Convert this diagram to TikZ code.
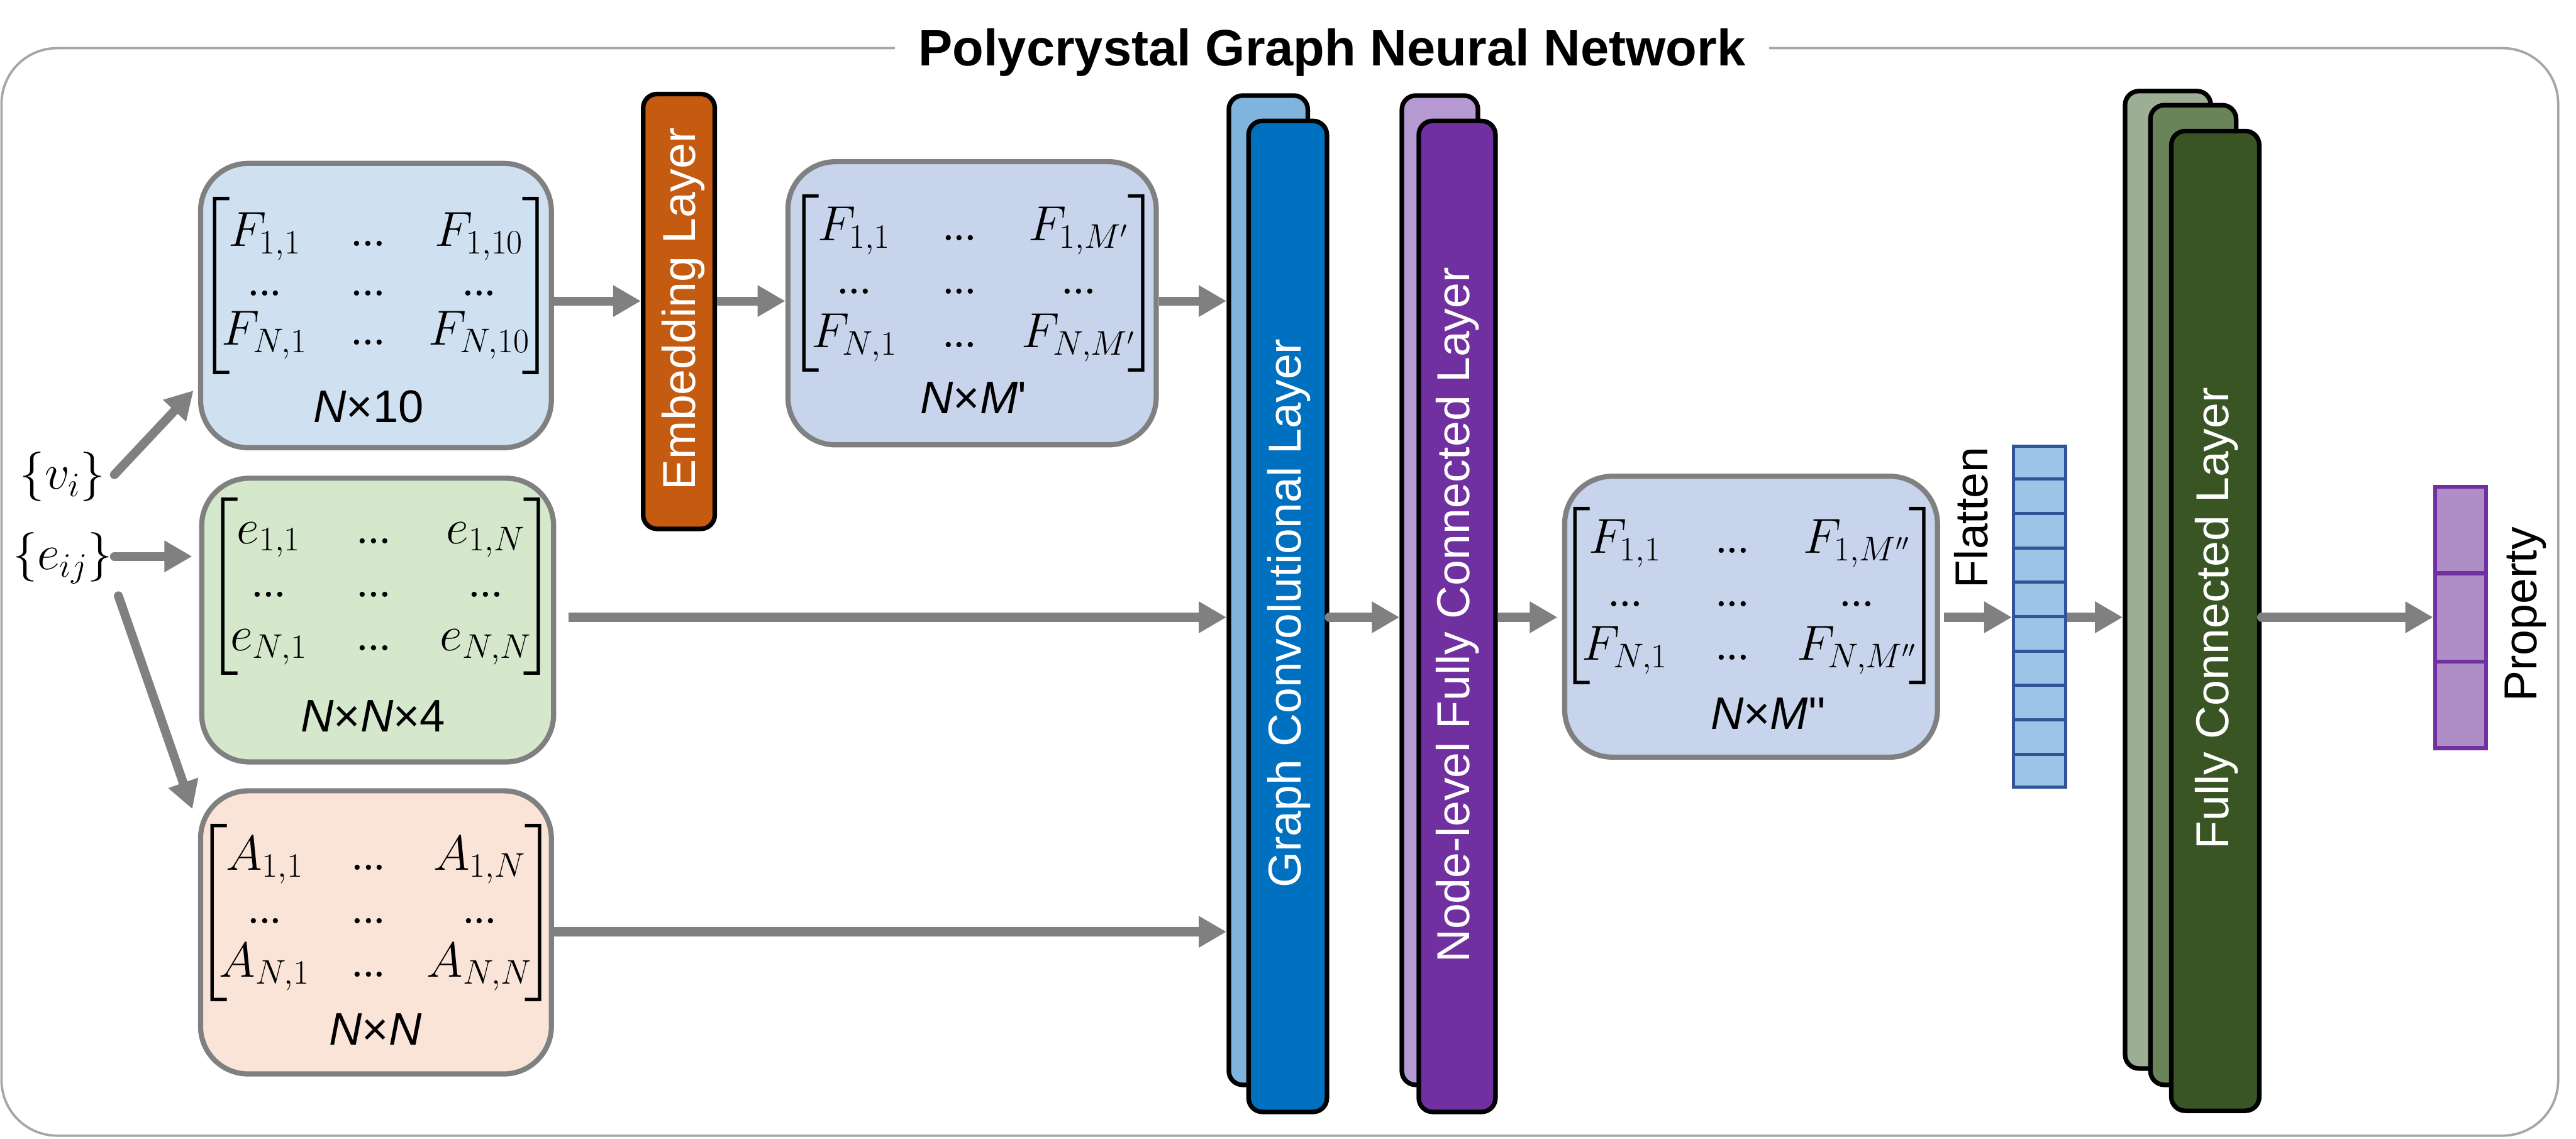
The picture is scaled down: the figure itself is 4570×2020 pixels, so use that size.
\documentclass[tikz,border=0pt]{standalone}
\usepackage[no-math]{fontspec}
\usepackage{amsmath}
\newfontfamily\arial{Liberation Sans}
\usetikzlibrary{arrows.meta,calc}
\DeclareMathSizes{28}{28}{16}{12}
\definecolor{boxgray}{HTML}{808080}
\definecolor{framegray}{HTML}{A6A6A6}
\definecolor{arrgray}{HTML}{808080}
\definecolor{cA}{HTML}{CFE0F1}
\definecolor{cB}{HTML}{D5E8CC}
\definecolor{cC}{HTML}{FAE4D8}
\definecolor{cD}{HTML}{C7D4EC}
\definecolor{embc}{HTML}{C55A11}
\definecolor{gcnb}{HTML}{80B4DC}
\definecolor{gcnf}{HTML}{0070C0}
\definecolor{nfcb}{HTML}{B49AD0}
\definecolor{nfcf}{HTML}{7030A0}
\definecolor{fcb}{HTML}{9CAF94}
\definecolor{fcm}{HTML}{6A845A}
\definecolor{fcf}{HTML}{3A5524}
\definecolor{flatfill}{HTML}{9DC3E6}
\definecolor{flatline}{HTML}{2F5597}
\definecolor{propfill}{HTML}{AF8DC7}
\definecolor{propline}{HTML}{7030A0}
\newcommand\mydots{\mbox{\fontsize{18}{18}\selectfont\bfseries...}}
\newcommand\pgnmat[3]{\ensuremath{\delimitershortfall=-3pt\left[\begin{array}{@{\hspace{-4pt}}c@{\hspace{#3}}c@{\hspace{#3}}c@{\hspace{-4pt}}}
#1_{1,1} & \mydots & #1_{1,#2}\\
\mydots & \mydots & \mydots\\
#1_{N,1} & \mydots & #1_{N,#2}
\end{array}\right]}}
\tikzset{
  pgnframe/.style={draw=framegray, line width=1.2pt, rounded corners=28pt, inner sep=0pt},
  mbox/.style={draw=boxgray, line width=2.6pt, rounded corners=24pt, inner sep=0pt},
  layerbox/.style={draw=black, line width=2.3pt, rounded corners=7pt, inner sep=0pt},
  arr/.style={draw=arrgray, line width=4.5pt, -{Triangle[length=14pt,width=15pt]}},
  vlab/.style={rotate=90, text=white, inner sep=0pt, font=\arial\fontsize{23.3}{26}\selectfont},
  blab/.style={rotate=90, text=black, inner sep=0pt, font=\arial\fontsize{23.3}{26}\selectfont},
  matx/.style={font=\fontsize{28}{27}\selectfont, inner sep=0pt},
  dimlab/.style={anchor=base, inner sep=0pt, font=\arial\fontsize{23}{26}\selectfont},
  inlab/.style={inner sep=0pt, font=\fontsize{26.5}{28}\selectfont},
  flatvec/.style={draw=flatline, fill=flatfill, line width=1.6pt, minimum width=0.93cm, minimum height=6.04cm, inner sep=0pt},
  propvec/.style={draw=propline, fill=propfill, line width=2pt, minimum width=0.90cm, minimum height=4.63cm, inner sep=0pt}
}
\begin{document}
\begin{tikzpicture}[x=0.01cm,y=-0.01cm]
\useasboundingbox (0,0) rectangle (4570,2020);
% frame and title
\node[pgnframe, minimum width=45.33cm, minimum height=19.28cm] (frame) at (2270.5,1050) {};
\node[anchor=base, fill=white, inner xsep=12pt, inner ysep=2pt, font=\arial\bfseries\fontsize{25.8}{28}\selectfont] (title) at (2363,117) {Polycrystal Graph Neural Network};
% rows
\coordinate (rowA) at (0,534);
\coordinate (rowB) at (0,1095);
\coordinate (rowC) at (0,1653);
% boxes
\node[mbox, fill=cA, minimum width=6.22cm, minimum height=5.04cm] (box1) at (667,542) {};
\node[mbox, fill=cB, minimum width=6.24cm, minimum height=5.03cm] (box2) at (670,1100) {};
\node[mbox, fill=cC, minimum width=6.22cm, minimum height=5.02cm] (box3) at (667,1654) {};
\node[layerbox, fill=embc, minimum width=1.27cm, minimum height=7.71cm] (emb) at (1204.5,552.5) {};
\node[mbox, fill=cD, minimum width=6.53cm, minimum height=5.02cm] (box4) at (1724.5,538) {};
\node[layerbox, fill=gcnb, minimum width=1.40cm, minimum height=17.54cm] (gcnB) at (2250,1047) {};
\node[layerbox, fill=gcnf, minimum width=1.39cm, minimum height=17.57cm] (gcnF) at (2284.5,1093.5) {};
\node[layerbox, fill=nfcb, minimum width=1.35cm, minimum height=17.54cm] (nfcB) at (2554.5,1047) {};
\node[layerbox, fill=nfcf, minimum width=1.36cm, minimum height=17.57cm] (nfcF) at (2585,1093.5) {};
\node[mbox, fill=cD, minimum width=6.61cm, minimum height=4.98cm] (box5) at (3106.5,1094) {};
\node[flatvec] (flat) at (3618.5,1094) {};
\foreach \k in {1,...,9}
  \draw[flatline, line width=1.6pt] ($(flat.north west)!\k/10!(flat.south west)$) -- ($(flat.north east)!\k/10!(flat.south east)$);
\node[layerbox, fill=fcb, minimum width=1.52cm, minimum height=17.33cm] (fcB) at (3846,1028.5) {};
\node[layerbox, fill=fcm, minimum width=1.52cm, minimum height=17.37cm] (fcM) at (3891,1055.5) {};
\node[layerbox, fill=fcf, minimum width=1.56cm, minimum height=17.37cm] (fcF) at (3930,1101.5) {};
\node[propvec] (prop) at (4365,1095.5) {};
\foreach \k in {1,2}
  \draw[propline, line width=2pt] ($(prop.north west)!\k/3!(prop.south west)$) -- ($(prop.north east)!\k/3!(prop.south east)$);
% matrices
\node[matx, font=\fontsize{28}{25}\selectfont] (m1) at (667,507) {\pgnmat{F}{10}{22pt}};
\node[dimlab] (d1) at (654,749) {\textit{N}×10};
\node[matx] (m2) at (676,1040) {\pgnmat{e}{N}{25pt}};
\node[matx] (m3) at (667,1619) {\pgnmat{A}{N}{21pt}};
\node[dimlab] (d2) at (662,1298) {\textit{N}×\textit{N}×4};
\node[dimlab] (d3) at (666,1854) {\textit{N}×\textit{N}};
\node[matx] (m4) at (1727,503) {\pgnmat{F}{M'}{23pt}};
\node[dimlab] (d4) at (1727,734) {\textit{N}×\textit{M}\textquotesingle};
\node[matx] (m5) at (3104,1057) {\pgnmat{F}{M''}{24pt}};
\node[dimlab] (d5) at (3137,1294) {\textit{N}×\textit{M}\textquotesingle\textquotesingle};
% layer labels
\node[vlab] (lemb) at (1212,548) {Embedding Layer};
\node[vlab] (lgcn) at (2287,1088) {Graph Convolutional Layer};
\node[vlab] (lnfc) at (2586,1091) {Node-level Fully Connected Layer};
\node[vlab] (lfc) at (3932,1097) {Fully Connected Layer};
\node[blab] (lflat) at (3497,918) {Flatten};
\node[blab] (lprop) at (4480,1090) {Property};
% inputs
\node[inlab] (vi) at (111,846) {$\{v_i\}$};
\node[inlab] (eij) at (111,990) {$\{e_{ij}\}$};
% arrows
\coordinate (vS) at ($(vi.center)+(92,-4)$);
\coordinate (vT) at ($(box1.south west)+(-8,-106)$);
\draw[arr, line cap=round] (vS) -- (vT);
\coordinate (eS) at ($(eij.center)+(92,-3)$);
\draw[arr, line cap=round, shorten >=3.5pt] (eS) -- (eS -| box2.west);
\coordinate (eS2) at ($(eij.center)+(99,67)$);
\coordinate (aT) at ($(box3.north west)+(-10,37)$);
\draw[arr, line cap=round] (eS2) -- (aT);
\draw[arr] (box1.east |- rowA) -- (emb.west |- rowA);
\draw[arr] (emb.east |- rowA) -- (box4.west |- rowA);
\draw[arr] (box4.east |- rowA) -- (gcnB.west |- rowA);
\draw[arr, shorten <=6.3pt] (box2.east |- rowB) -- (gcnB.west |- rowB);
\draw[arr] (box3.east |- rowC) -- (gcnB.west |- rowC);
\draw[arr, line cap=round] (gcnF.east |- rowB) -- (nfcB.west |- rowB);
\draw[arr, shorten >=2.3pt] (nfcF.east |- rowB) -- (box5.west |- rowB);
\draw[arr, shorten <=2pt] (box5.east |- rowB) -- (flat.west |- rowB);
\draw[arr] (flat.east |- rowB) -- (fcB.west |- rowB);
\draw[arr, line cap=round] (fcF.east |- rowB) -- (prop.west |- rowB);
\end{tikzpicture}
\end{document}
